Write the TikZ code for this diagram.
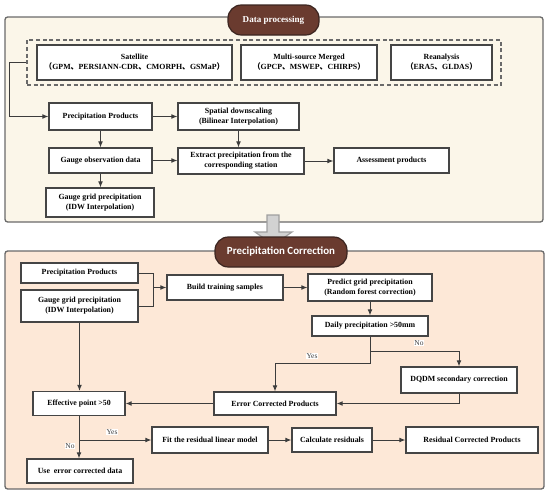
\documentclass[tikz,border=0pt]{standalone}
\usepackage{fontspec}
\setmainfont{Liberation Serif}
\newfontfamily\cjkfont{Noto Sans CJK SC}
\newfontfamily\titlefont{Carlito}
\usetikzlibrary{arrows.meta}

\definecolor{creamfill}{HTML}{FBF6E9}
\definecolor{peachfill}{HTML}{FDE8D7}
\definecolor{pillfill}{HTML}{6A3B2F}
\definecolor{pillline}{HTML}{3B2520}
\definecolor{panelline}{HTML}{6A6A6A}
\definecolor{boxline}{HTML}{454545}
\definecolor{arrline}{HTML}{3C3C3C}

\newcommand{\cjkl}{{\cjkfont （}}
\newcommand{\cjkr}{{\cjkfont ）}}
\newcommand{\cjkc}{{\cjkfont 、}}

\tikzset{every picture/.style={line width=0.75pt}}
\tikzset{
  sz/.style 2 args={minimum width=#1*0.75pt, minimum height=#2*0.75pt},
  box/.style={draw=boxline, fill=white, line width=0.9pt, inner sep=1pt, align=center,
    font=\fontsize{5.9}{7.6}\selectfont\bfseries},
  panel/.style={draw=panelline, line width=1pt, rounded corners=2pt},
  pill/.style={draw=pillline, fill=pillfill, line width=0.9pt, rounded corners=10pt,
    text=white, inner sep=1pt},
  arr/.style={draw=arrline, line width=0.75pt, -{Latex[length=4.5pt,width=3.6pt]}},
  link/.style={draw=arrline, line width=0.75pt},
  lbl/.style={font=\fontsize{5.6}{6}\selectfont, text=black!75, fill=white, inner sep=0.6pt},
}

\begin{document}
\begin{tikzpicture}[x=0.75pt,y=0.75pt,yscale=-1,xscale=1]
	\useasboundingbox (0,0) rectangle (550,496);
	
	%Shape: Panels
	\draw[panel, fill=creamfill] (5,17) rectangle (543,222);
	\draw[panel, fill=peachfill] (5,251) rectangle (544,489);
	%Shape: Big arrow
	\draw[draw=gray!75, fill=gray!35, line width=0.9pt] (267,215) -- (279,215) -- (279,232) -- (292,232) -- (273.5,245) -- (255,232) -- (267,232) -- cycle;
	
	% Title nodes
	\node[pill, sz={91}{30}, font=\fontsize{6.8}{8}\selectfont\bfseries] (dataproc) at (273.5,20) {Data processing};
	\node[pill, sz={132}{30}, font=\fontsize{8.2}{9}\selectfont\titlefont\bfseries] (preccorr) at (281,252) {Precipitation Correction};
	
	% Data processing nodes
	\node[draw=panelline, dashed, dash pattern=on 3pt off 2pt, line width=0.9pt, sz={474}{45}] (src) at (264,62.5) {};
	\node[box, sz={195}{35}] (sat) at (134.5,62.5) {Satellite\\\cjkl GPM\cjkc PERSIANN-CDR\cjkc CMORPH\cjkc GSMaP\cjkr};
	\node[box, sz={136}{35}] (msm) at (309,62.5) {Multi-source Merged\\\cjkl GPCP\cjkc MSWEP\cjkc CHIRPS\cjkr};
	\node[box, sz={101}{35}] (rea) at (441.5,62.5) {Reanalysis\\\cjkl ERA5\cjkc GLDAS\cjkr};
	\node[box, sz={103}{27}] (pp) at (100.5,116.5) {Precipitation Products};
	\node[box, sz={121}{27}] (sd) at (238.5,116.5) {Spatial downscaling\\(Bilinear Interpolation)};
	\node[box, sz={103}{25}] (go) at (100.5,160.5) {Gauge observation data};
	\node[box, sz={126}{26}] (ex) at (241,161) {Extract precipitation from the\\corresponding station};
	\node[box, sz={115}{25}] (as) at (391.5,160.5) {Assessment products};
	\node[box, sz={108}{29}] (gg) at (100,202.5) {Gauge grid precipitation\\(IDW Interpolation)};
	
	%Straight Lines
	\draw[arr] (src.west) -- ++(-17,0) |- (pp.west);
	\draw[arr] (pp.east) -- (pp.east -| sd.west);
	\draw[arr] (pp.south) -- (pp.south |- go.north);
	\draw[arr] (sd.south) -- (sd.south |- ex.north);
	\draw[arr] (go.east) -- (go.east -| ex.west);
	\draw[arr] (ex.east) -- (ex.east -| as.west);
	\draw[arr] (go.south) -- (go.south |- gg.north);
	
	% Precipitation correction nodes
	\node[box, sz={117}{20}] (pp2) at (79.5,273) {Precipitation Products};
	\node[box, sz={117}{32}] (gg2) at (79.5,306) {Gauge grid precipitation\\(IDW Interpolation)};
	\node[box, sz={116}{25}] (bt) at (225,287.5) {Build training samples};
	\node[box, sz={124}{27}] (pg) at (370,287.5) {Predict grid precipitation\\(Random forest correction)};
	\node[box, sz={116}{20}] (dp) at (370,326) {Daily precipitation >50mm};
	\node[box, sz={116}{26}] (dq) at (459,380) {DQDM secondary correction};
	\node[box, sz={122}{23}] (ec) at (275,403.5) {Error Corrected Products};
	\node[box, sz={92}{24}] (ep) at (79,403.5) {Effective point >50};
	\node[box, sz={116}{26}] (fr) at (210,440) {Fit the residual linear model};
	\node[box, sz={80}{24}] (cr) at (332,440) {Calculate residuals};
	\node[box, sz={132}{26}] (rc) at (472,440) {Residual Corrected Products};
	\node[box, sz={106}{24}] (ue) at (80,471) {Use\ \ error corrected data};
	
	%Straight Lines
	\draw[link] (pp2.east) -- ++(15,0) coordinate (jn) |- (gg2.east);
	\draw[arr] (jn |- bt.west) -- (bt.west);
	\draw[arr] (bt.east) -- (pg.west);
	\draw[arr] (pg.south) -- (dp.north);
	\draw[arr] (dp.south) -- ++(0,15) -| (dq.north);
	\draw[arr] (dp.south) -- ++(0,27) -| (ec.north);
	\draw[arr] (dq.south) |- (ec.east);
	\draw[arr] (ec.west) -- (ep.east);
	\draw[arr] (gg2.south) -- (gg2.south |- ep.north);
	\draw[arr] (ep.south) -- (ep.south |- ue.north);
	\draw[arr] (ep.south |- fr.west) -- (fr.west);
	\draw[arr] (fr.east) -- (cr.west);
	\draw[arr] (cr.east) -- (rc.west);
	
	% Text Node
	\node[lbl] (no1) at (419,343) {No};
	\node[lbl] (yes1) at (312,356) {Yes};
	\node[lbl] (yes2) at (112,432) {Yes};
	\node[lbl] (no2) at (70,446) {No};
	
\end{tikzpicture}
\end{document}
